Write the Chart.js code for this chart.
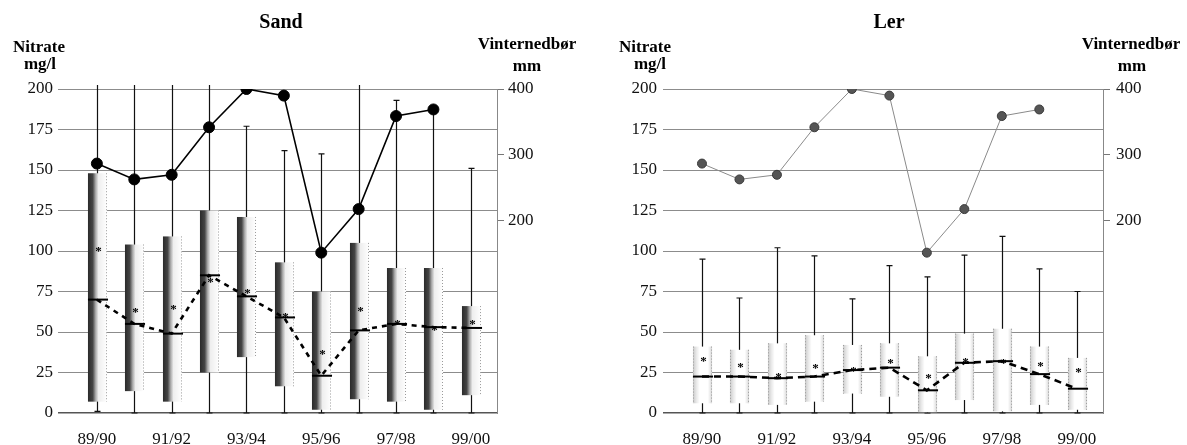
<!DOCTYPE html>
<html><head><meta charset="utf-8">
<script src="https://cdn.jsdelivr.net/npm/chart.js@4.4.1/dist/chart.umd.min.js"></script>
<style>
html,body{margin:0;padding:0;background:#fff;width:1187px;height:445px;overflow:hidden}
canvas{position:absolute;top:0}
</style></head><body>
<canvas id="sand" width="594" height="445" style="left:0;width:594px;height:445px"></canvas>
<canvas id="ler" width="593" height="445" style="left:594px;width:593px;height:445px"></canvas>
<script>
// ---- data ----
const categories = ['89/90','90/91','91/92','92/93','93/94','94/95','95/96','96/97','97/98','98/99','99/00'];
const tickLabels = ['89/90','91/92','93/94','95/96','97/98','99/00'];
const nitrateTicks = [0,25,50,75,100,125,150,175,200];
const precipTicks = [200,300,400];
const precipitation = [287, 263, 270, 342, 400, 390, 152, 218, 359, 369, null];

// Sand (values above 200 run off the top of the chart)
const sandMin    = [1, 0, 0, 0, 0, 0, 0, 0, 0, 0, 0];
const sandQ1     = [7, 13.5, 7, 25, 34.5, 16.5, 2, 8.5, 7, 2, 11];
const sandMedian = [70, 55, 49, 85, 72, 59, 23, 51, 55, 53, 52.5];
const sandMean   = [102, 64, 66, 83, 76, 61, 38, 65, 57, 53, 57];
const sandQ3     = [148, 104, 109, 125, 121, 93, 75, 105, 89.5, 89.5, 66];
const sandMax    = [205, 205, 205, 205, 177, 162, 160, 205, 193, 187, 151];

// Ler
const lerMin    = [0, 0, 0, 0, 0, 0, 0, 0, 0, 0, 0];
const lerQ1     = [6, 6, 5, 7, 12, 10, 0.5, 8, 1, 5, 2];
const lerMedian = [22.5, 22.5, 21.5, 22.5, 26.5, 28, 14, 31, 32, 24, 15];
const lerMean   = [34, 30, 24, 29.5, 28, 32.5, 23.5, 33.5, 33, 31, 27];
const lerQ3     = [41, 39, 43, 48, 42, 43, 35, 49, 52, 41, 34];
const lerMax    = [95, 71, 102, 97, 70.5, 91, 84, 97.5, 109, 89, 75];

const SERIF = "'Liberation Serif', 'Times New Roman', 'DejaVu Serif', serif";

function pts(arr){ return arr.map((v,i)=> v==null ? null : {x:i, y:v}).filter(p=>p); }

function boxPlugin(d){
  return {
    id: 'boxes_' + d.kind,
    beforeDatasetsDraw(chart){
      const x = chart.scales.x, y = chart.scales.y, ctx = chart.ctx;
      const step = x.getPixelForValue(1) - x.getPixelForValue(0);
      const hw = step * 0.255;
      const capW = 3;
      const topPx = y.getPixelForValue(y.max);
      ctx.save();
      for (let i = 0; i < categories.length; i++){
        const cx = Math.round(x.getPixelForValue(i)) + 0.5;
        const over = d.max[i] > y.max;
        const yMax = over ? topPx - 4 : y.getPixelForValue(d.max[i]);
        const yMin = y.getPixelForValue(d.min[i]);
        const yQ1 = y.getPixelForValue(d.q1[i]);
        const yQ3 = y.getPixelForValue(d.q3[i]);
        // whisker
        ctx.strokeStyle = '#111'; ctx.lineWidth = 1.2; ctx.setLineDash([]);
        ctx.beginPath();
        ctx.moveTo(cx, yMax); ctx.lineTo(cx, yMin);
        if (!over){ ctx.moveTo(cx-capW, yMax); ctx.lineTo(cx+capW, yMax); }
        ctx.moveTo(cx-capW, yMin); ctx.lineTo(cx+capW, yMin);
        ctx.stroke();
        // box
        const l = cx - hw, r = cx + hw;
        const g = ctx.createLinearGradient(l, 0, r, 0);
        if (d.kind === 'sand'){
          g.addColorStop(0, '#2a2a2a');
          g.addColorStop(0.25, '#454545');
          g.addColorStop(0.4, '#a8a8a8');
          g.addColorStop(0.55, '#eeeeee');
          g.addColorStop(1, '#ffffff');
        } else {
          g.addColorStop(0, '#c9c9c9');
          g.addColorStop(0.18, '#e8e8e8');
          g.addColorStop(0.35, '#ffffff');
          g.addColorStop(0.78, '#ffffff');
          g.addColorStop(0.92, '#e6e6e6');
          g.addColorStop(1, '#d2d2d2');
        }
        ctx.fillStyle = g;
        ctx.fillRect(l, yQ3, r - l, yQ1 - yQ3);
        ctx.strokeStyle = '#9a9a9a'; ctx.lineWidth = 1; ctx.setLineDash([1,2]);
        ctx.beginPath();
        ctx.moveTo(Math.round(r)-0.5, yQ3); ctx.lineTo(Math.round(r)-0.5, yQ1);
        if (d.kind !== 'sand'){ ctx.moveTo(Math.round(l)+0.5, yQ3); ctx.lineTo(Math.round(l)+0.5, yQ1); }
        ctx.stroke();
        ctx.setLineDash([]);
        // median
        const yM = y.getPixelForValue(d.median[i]);
        ctx.strokeStyle = '#000'; ctx.lineWidth = 2;
        ctx.beginPath(); ctx.moveTo(l, yM); ctx.lineTo(r + 1, yM); ctx.stroke();
        // mean asterisk
        ctx.fillStyle = '#000';
        ctx.font = 'bold 13px ' + SERIF;
        ctx.textAlign = 'center'; ctx.textBaseline = 'alphabetic';
        ctx.fillText('*', cx + 1, y.getPixelForValue(d.mean[i]) + 7);
      }
      ctx.restore();
    }
  };
}

function headerPlugin(h){
  return {
    id: 'header_' + h.title,
    afterDraw(chart){
      const ctx = chart.ctx;
      ctx.save();
      ctx.fillStyle = '#000';
      ctx.textAlign = 'center'; ctx.textBaseline = 'alphabetic';
      ctx.font = 'bold 20px ' + SERIF;
      ctx.fillText(h.title, h.titleX, 28);
      ctx.font = 'bold 17px ' + SERIF;
      ctx.fillText('Nitrate', h.leftX, 52);
      ctx.fillText('mg/l', h.leftX2, 69);
      ctx.fillText('Vinternedbør', h.rightX, 49);
      ctx.fillText('mm', h.rightX2, 71);
      ctx.restore();
    }
  };
}

function makeChart(id, d, h){
  const sand = d.kind === 'sand';
  return new Chart(document.getElementById(id), {
    type: 'line',
    data: {
      datasets: [
        {
          label: 'Median',
          data: pts(d.median),
          yAxisID: 'y',
          borderColor: '#000',
          borderWidth: 2.6,
          borderDash: sand ? [5,5] : [7,5],
          pointRadius: 0,
          fill: false,
          tension: 0,
          order: 2
        },
        {
          label: 'Vinternedbør',
          data: pts(precipitation),
          yAxisID: 'y2',
          borderColor: sand ? '#000' : '#8a8a8a',
          borderWidth: sand ? 1.6 : 1,
          pointRadius: sand ? 5.5 : 4.5,
          pointBackgroundColor: sand ? '#000' : '#555',
          pointBorderColor: sand ? '#000' : '#3a3a3a',
          pointBorderWidth: 1,
          fill: false,
          tension: 0,
          order: 1
        }
      ]
    },
    options: {
      responsive: false,
      animation: false,
      devicePixelRatio: 1,
      layout: { padding: { top: 89, bottom: 0, left: 0, right: 0 } },
      plugins: { legend: { display: false }, tooltip: { enabled: false }, title: { display: false } },
      scales: {
        x: {
          type: 'linear',
          min: -1.04, max: 10.7,
          grid: { display: false },
          border: { display: false },
          afterBuildTicks: (s) => { s.ticks = tickLabels.map((t) => ({ value: categories.indexOf(t) })); },
          afterFit: (s) => { s.height = 32; },
          ticks: {
            padding: 8,
            maxRotation: 0,
            autoSkip: false,
            color: '#111',
            font: { family: SERIF, size: 17 },
            callback: (v) => categories[v]
          }
        },
        y: {
          position: 'left',
          min: 0, max: 200,
          afterBuildTicks: (s) => { s.ticks = nitrateTicks.map(v => ({ value: v })); },
          afterFit: (s) => { s.width = h.leftWidth; },
          grid: {
            drawTicks: false,
            color: (c) => c.tick && c.tick.value === 0 ? '#555' : '#8c8c8c',
            lineWidth: (c) => c.tick && c.tick.value === 0 ? 1.6 : 1
          },
          border: { display: false },
          ticks: { padding: h.leftPad, color: '#111', font: { family: SERIF, size: 17 } }
        },
        y2: {
          position: 'right',
          min: -91, max: 400,
          afterBuildTicks: (s) => { s.ticks = precipTicks.map(v => ({ value: v })); },
          afterFit: (s) => { s.width = h.rightWidth; },
          grid: { drawOnChartArea: false, drawTicks: true, tickLength: h.tickLen, color: '#777' },
          border: { display: true, color: '#888', width: 1, dash: sand ? [4,2] : [] },
          ticks: { padding: h.rightPad, color: '#111', font: { family: SERIF, size: 17 } }
        }
      }
    },
    plugins: [boxPlugin(d), headerPlugin(h)]
  });
}

makeChart('sand',
  { kind: 'sand', min: sandMin, q1: sandQ1, median: sandMedian, mean: sandMean, q3: sandQ3, max: sandMax },
  { title: 'Sand', titleX: 281, leftX: 39, leftX2: 40, rightX: 527, rightX2: 527,
    leftWidth: 58, leftPad: 5, rightWidth: 97, rightPad: 4, tickLen: 7 });

makeChart('ler',
  { kind: 'ler', min: lerMin, q1: lerQ1, median: lerMedian, mean: lerMean, q3: lerQ3, max: lerMax },
  { title: 'Ler', titleX: 295, leftX: 51, leftX2: 56, rightX: 537, rightX2: 538,
    leftWidth: 69, leftPad: 6, rightWidth: 84, rightPad: 6, tickLen: 7 });
</script>
</body></html>
